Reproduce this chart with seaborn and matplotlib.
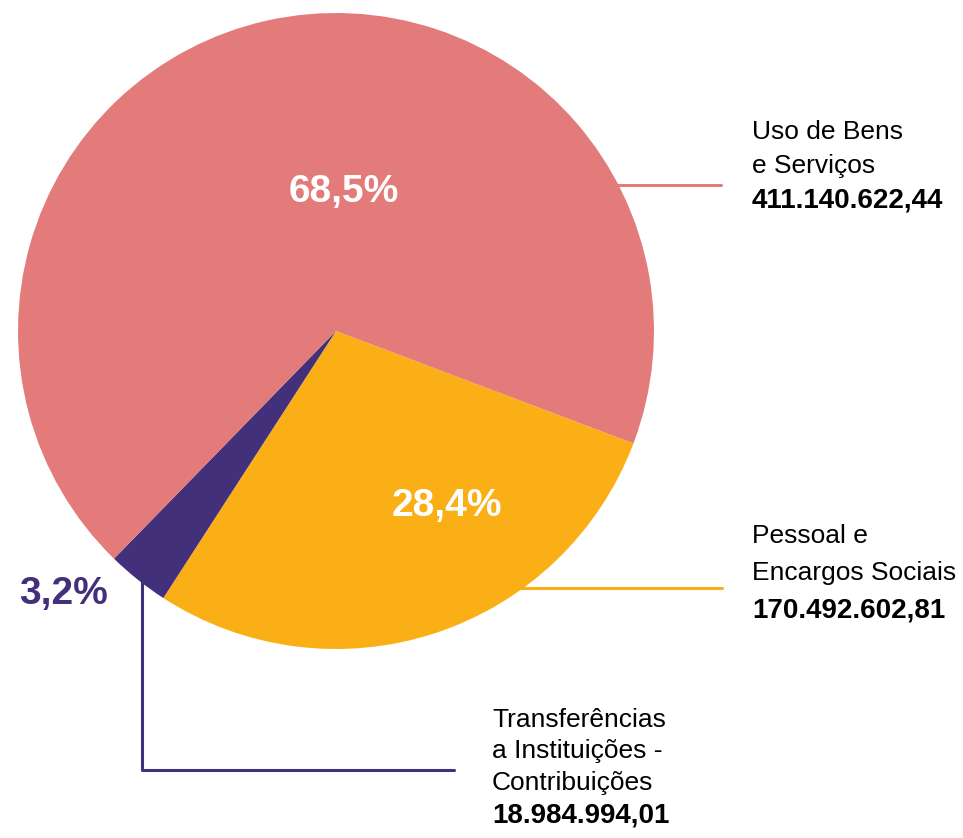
import matplotlib
matplotlib.use("Agg")
import matplotlib.pyplot as plt
import seaborn as sns

# --- Dados ---
categorias = ["Pessoal e\nEncargos Sociais", "Transferências\na Instituições -\nContribuições", "Uso de Bens\ne Serviços"]
valores = [170492602.81, 18984994.01, 411140622.44]
valores_txt = ["170.492.602,81", "18.984.994,01", "411.140.622,44"]
percentuais = ["28,4%", "3,2%", "68,5%"]
cores = ["#FBAF17", "#43307A", "#E37B7A"]

sns.set_theme(style="white")
plt.rcParams['font.family'] = ['Liberation Sans', 'DejaVu Sans']

W, H = 963, 838
fig = plt.figure(figsize=(W / 100, H / 100), dpi=100)
ax = fig.add_axes([0, 0, 1, 1])

cx, cy, r = 336, H - 331, 318
ax.pie(valores, colors=cores, startangle=-20.7, counterclock=False,
       center=(cx, cy), radius=r, wedgeprops=dict(linewidth=0, zorder=2))
ax.set_xlim(0, W)
ax.set_ylim(0, H)
ax.set_aspect("equal")
ax.axis("off")

# rótulos de percentual
ax.text(344, H - 202, percentuais[2], color="white", fontsize=28, fontweight="bold", ha="center", va="baseline", zorder=3)
ax.text(447, H - 516, percentuais[0], color="white", fontsize=28, fontweight="bold", ha="center", va="baseline", zorder=3)
ax.text(64, H - 604, percentuais[1], color=cores[1], fontsize=28, fontweight="bold", ha="center", va="baseline", zorder=3)

# linhas de chamada (passam por baixo da pizza)
ax.plot([560, 721], [H - 185, H - 185], color=cores[2], lw=2.2, zorder=1)
ax.plot([480, 722], [H - 588, H - 588], color=cores[0], lw=2.2, zorder=1)
ax.plot([142, 142, 454], [H - 540, H - 770, H - 770], color=cores[1], lw=2.2, zorder=1)

# textos das categorias
def rotulo(x, bases, nome, valor):
    linhas = nome.split("\n")
    for linha, b in zip(linhas, bases):
        ax.text(x, H - b, linha, fontsize=19, ha="left", va="baseline", color="black")
    ax.text(x, H - bases[-1], valor, fontsize=20, fontweight="bold", ha="left", va="baseline", color="black")

rotulo(752, [139, 173, 208], categorias[2], valores_txt[2])
rotulo(752, [543, 580, 617], categorias[0], valores_txt[0])
rotulo(492, [727, 758, 790, 822], categorias[1], valores_txt[1])

fig.savefig("out.png", dpi=100)
